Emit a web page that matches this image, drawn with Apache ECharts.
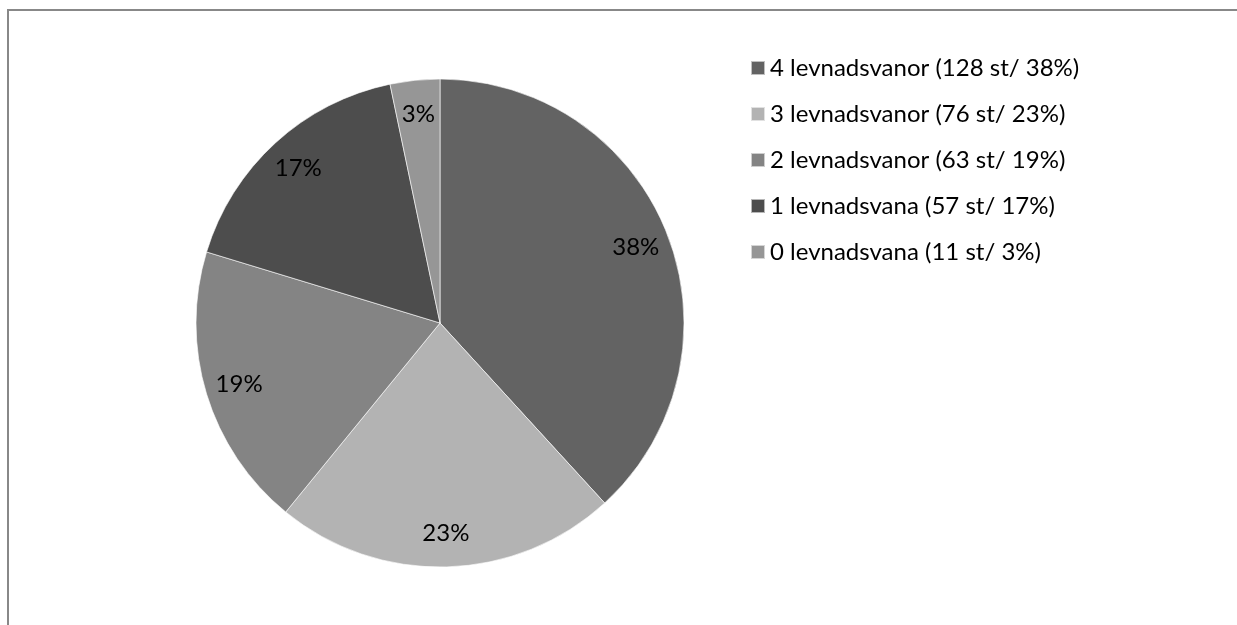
<!DOCTYPE html>
<html><head><meta charset="utf-8">
<script src="https://cdn.jsdelivr.net/npm/echarts@6/dist/echarts.min.js"></script>
<style>html,body{margin:0;padding:0;background:#fff}#c{width:1237px;height:625px}</style>
</head><body><div id="c"></div>
<script>
const categories = ['4 levnadsvanor', '3 levnadsvanor', '2 levnadsvanor', '1 levnadsvana', '0 levnadsvana'];
const counts = [128, 76, 63, 57, 11];
const percents = [38, 23, 19, 17, 3];
const colors = ['#636363', '#b3b3b3', '#848484', '#4d4d4d', '#969696'];

const data = categories.map((c, i) => ({ name: c, value: counts[i], itemStyle: { color: colors[i] } }));
const labelData = categories.map((c, i) => ({ name: c, value: counts[i] }));
const FONT = 'Lato';
const chart = echarts.init(document.getElementById('c'));
chart.setOption({
  animation: false,
  graphic: [{ type: 'rect', shape: { x: 8, y: 10, width: 1400, height: 800 }, style: { fill: 'none', stroke: '#888', lineWidth: 2 }, silent: true }],
  legend: {
    orient: 'vertical', left: 750, top: 56, padding: 0, itemWidth: 14, itemHeight: 14, itemGap: 22, icon: 'rect',
    textStyle: { fontFamily: FONT, fontSize: 24, color: '#000' },
    formatter: n => { const i = categories.indexOf(n); return n + ' (' + counts[i] + ' st/ ' + percents[i] + '%)'; },
    selectedMode: false
  },
  series: [{
    type: 'pie', center: [440, 323], radius: [0, 244], startAngle: 90, clockwise: true,
    label: { show: false }, labelLine: { show: false }, silent: true,
    itemStyle: { borderColor: 'rgba(255,255,255,0.6)', borderWidth: 1 },
    data: data
  }, {
    type: 'pie', center: [440, 323], radius: [168, 246], startAngle: 90, clockwise: true, silent: true,
    itemStyle: { color: 'rgba(0,0,0,0)' },
    label: { show: true, position: 'inside', fontFamily: FONT, fontSize: 24, color: '#000',
      formatter: p => percents[p.dataIndex] + '%' },
    labelLine: { show: false },
    data: labelData
  }]
});
</script></body></html>
